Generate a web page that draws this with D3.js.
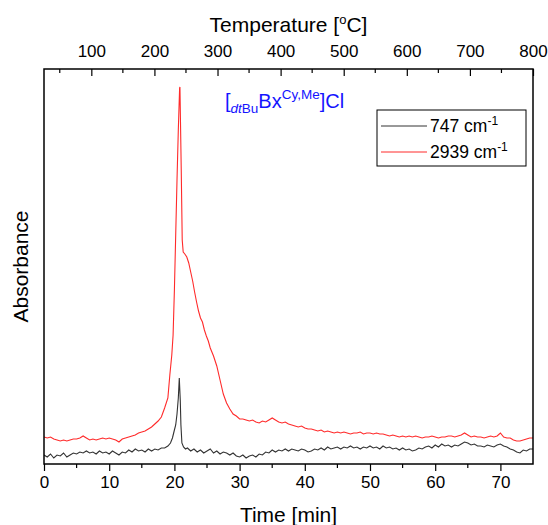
<!DOCTYPE html>
<html>
<head>
<meta charset="utf-8">
<script src="https://cdn.jsdelivr.net/npm/d3@7/dist/d3.min.js"></script>
<style>
  body { margin: 0; background: #fff; }
  svg { display: block; font-family: "Liberation Sans", Arial, sans-serif; }
</style>
</head>
<body>
<svg id="chart" width="548" height="525"></svg>
<script>
// ---- data (absorbance in arbitrary units) ----
const timeTicks = [0, 10, 20, 30, 40, 50, 60, 70];
const tempTicks = [100, 200, 300, 400, 500, 600, 700, 800];
const timeDomain = [0, 75];
const tempDomain = [25, 800];
const seriesNames = ["747 cm", "2939 cm"];
const seriesColors = ["#333333", "#ff2a2a"];

// 2939 cm-1 : [time (min), absorbance]
const red2939 = [
 [0,27],[0.5,26],[1,27],[1.5,25],[2,24],[2.5,23],[3,24],[3.5,23],[4,24],[4.5,25],
 [5,25],[5.5,26],[6,28],[6.5,26],[7,24],[7.5,25],[8,24],[8.5,25],[9,26],[9.5,25],
 [10,26],[10.5,25],[11,24],[11.5,22],[12,25],[12.5,26],[13,27],[13.5,28],[14,29],[14.5,31],
 [15,32],[15.5,33],[16,35],[16.5,37],[17,40],[17.5,43],[18,47],[18.5,56],[19,66],[19.3,89],
 [19.6,109],[19.8,129],[20,174],[20.2,229],[20.4,284],[20.6,334],[20.8,376],[20.85,377],[21.05,294],[21.2,224],
 [21.35,212],[21.6,210],[21.9,207],[22.2,201],[22.5,192],[22.8,183],[23.1,172],[23.4,162],[23.7,153],[24,146],
 [24.3,142],[24.6,134],[24.9,128],[25.2,123],[25.5,116],[26,108],[26.5,98],[27,84],[27.5,70],[28,61],
 [28.5,55],[29,50],[29.5,48],[30,45],[30.5,45],[31,44],[31.5,43],[32,44],[32.5,42],[33,41],
 [33.5,43],[34,42],[34.5,44],[35,46],[35.5,44],[36,42],[36.5,41],[37,42],[37.5,40],[38,39],
 [38.5,38],[39,37],[39.5,38],[40,36],[40.5,35],[41,35],[41.5,34],[42,33],[42.5,34],[43,32],
 [43.5,33],[44,32],[44.5,31],[45,32],[45.5,31],[46,32],[46.5,31],[47,30],[47.5,31],[48,31],
 [48.5,32],[49,30],[49.5,31],[50,31],[50.5,30],[51,31],[51.5,30],[52,30],[52.5,29],[53,28],
 [53.5,29],[54,28],[54.5,27],[55,28],[55.5,27],[56,28],[56.5,27],[57,28],[57.5,27],[58,26],
 [58.5,27],[59,27],[59.5,28],[60,27],[60.5,26],[61,27],[61.5,27],[62,28],[62.5,28],[63,27],
 [63.5,28],[64,29],[64.5,31],[65,29],[65.5,27],[66,28],[66.5,27],[67,27],[67.5,26],[68,27],
 [68.5,28],[69,27],[69.5,28],[70,31],[70.5,27],[71,26],[71.5,26],[72,24],[72.5,23],[73,23],
 [73.5,24],[74,25],[74.5,26],[75,26]
];

// 747 cm-1 : [time (min), absorbance]
const black747 = [
 [0,9],[0.5,7],[1,10],[1.5,6],[2,9],[2.5,8],[3,11],[3.5,7],[4,9],[4.5,11],
 [5,10],[5.5,12],[6,11],[6.5,13],[7,11],[7.5,12],[8,10],[8.5,13],[9,11],[9.5,12],
 [10,10],[10.5,13],[11,11],[11.5,9],[12,12],[12.5,11],[13,14],[13.5,12],[14,15],[14.5,13],
 [15,14],[15.5,12],[16,15],[16.5,13],[17,15],[17.5,14],[18,16],[18.5,16],[19,18],[19.4,21],
 [19.7,26],[20,34],[20.2,39],[20.4,50],[20.6,66],[20.75,86],[20.9,64],[21,39],[21.15,21],[21.4,17],
 [21.7,15],[22,16],[22.5,13],[23,15],[23.5,12],[24,14],[24.5,11],[25,13],[25.5,15],[26,11],
 [26.5,13],[27,10],[27.5,12],[28,11],[28.5,9],[29,11],[29.5,8],[30,7],[30.5,9],[31,6],
 [31.5,8],[32,9],[32.5,7],[33,10],[33.5,9],[34,12],[34.5,11],[35,14],[35.5,12],[36,14],
 [36.5,13],[37,15],[37.5,13],[38,15],[38.5,14],[39,13],[39.5,15],[40,14],[40.5,12],[41,13],
 [41.5,15],[42,14],[42.5,16],[43,14],[43.5,17],[44,15],[44.5,16],[45,17],[45.5,15],[46,17],
 [46.5,16],[47,18],[47.5,16],[48,17],[48.5,15],[49,17],[49.5,16],[50,18],[50.5,16],[51,17],
 [51.5,15],[52,18],[52.5,16],[53,17],[53.5,15],[54,16],[54.5,14],[55,16],[55.5,14],[56,15],
 [56.5,13],[57,14],[57.5,16],[58,15],[58.5,17],[59,18],[59.5,16],[60,19],[60.5,17],[61,20],
 [61.5,18],[62,19],[62.5,17],[63,19],[63.5,18],[64,20],[64.5,22],[65,21],[65.5,19],[66,20],
 [66.5,18],[67,18],[67.5,17],[68,19],[68.5,18],[69,17],[69.5,19],[70,20],[70.5,18],[71,17],
 [71.5,15],[72,14],[72.5,12],[73,11],[73.5,14],[74,13],[74.5,15],[75,15]
];

// ---- layout ----
const svg = d3.select("#chart");
const L = 44, R = 533, T = 69, B = 464;

const x = d3.scaleLinear().domain(timeDomain).range([L, R]);
const xTop = d3.scaleLinear().domain(tempDomain).range([L, R]);
const y = d3.scaleLinear().domain([0, 395]).range([B, T]);

const line = d3.line().x(d => x(d[0])).y(d => y(d[1]));

svg.append("defs").append("clipPath").attr("id", "clip")
  .append("rect").attr("x", L).attr("y", T).attr("width", R - L).attr("height", B - T);

const gLines = svg.append("g").attr("clip-path", "url(#clip)");
gLines.append("path").datum(red2939)
  .attr("fill", "none").attr("stroke", seriesColors[1]).attr("stroke-width", 1.1)
  .attr("d", line);
gLines.append("path").datum(black747)
  .attr("fill", "none").attr("stroke", seriesColors[0]).attr("stroke-width", 1.1)
  .attr("d", line);

// bottom axis (ticks outward)
const minorTime = d3.range(5, 75, 10);
const gB = svg.append("g").attr("transform", `translate(0,${B})`);
gB.call(d3.axisBottom(x).tickValues(timeTicks).tickSize(7).tickPadding(5).tickFormat(d3.format("d")));
gB.selectAll("text").attr("font-size", 17).attr("fill", "#000").attr("font-family", "Liberation Sans, Arial, sans-serif");
gB.select(".domain").remove();
gB.selectAll(".tick line").attr("stroke", "#000").attr("stroke-width", 1.2);
gB.selectAll(".minor").data(minorTime).enter().append("line")
  .attr("x1", d => x(d)).attr("x2", d => x(d)).attr("y1", 0).attr("y2", 4)
  .attr("stroke", "#000").attr("stroke-width", 1.2);

// top axis (ticks inward)
const minorTemp = d3.range(50, 800, 100);
const gT = svg.append("g").attr("transform", `translate(0,${T})`);
gT.call(d3.axisTop(xTop).tickValues(tempTicks).tickSize(-7).tickPadding(12).tickFormat(d3.format("d")));
gT.selectAll("text").attr("font-size", 17).attr("fill", "#000").attr("font-family", "Liberation Sans, Arial, sans-serif");
gT.select(".domain").remove();
gT.selectAll(".tick line").attr("stroke", "#000").attr("stroke-width", 1.2);
gT.selectAll(".minor").data(minorTemp).enter().append("line")
  .attr("x1", d => xTop(d)).attr("x2", d => xTop(d)).attr("y1", 0).attr("y2", 4)
  .attr("stroke", "#000").attr("stroke-width", 1.2);

// frame
svg.append("rect").attr("x", L).attr("y", T).attr("width", R - L).attr("height", B - T)
  .attr("fill", "none").attr("stroke", "#000").attr("stroke-width", 1.5);

// axis titles
svg.append("text").attr("x", (L + R) / 2).attr("y", 522).attr("text-anchor", "middle")
  .attr("font-size", 21).text("Time [min]");

const tt = svg.append("text").attr("x", (L + R) / 2).attr("y", 32).attr("text-anchor", "middle")
  .attr("font-size", 21);
tt.append("tspan").text("Temperature [");
tt.append("tspan").attr("font-size", 13).attr("dy", -8).text("o");
tt.append("tspan").attr("dy", 8).text("C]");

svg.append("text").attr("transform", `translate(28,${(T + B) / 2}) rotate(-90)`)
  .attr("text-anchor", "middle").attr("font-size", 21).text("Absorbance");

// compound label
const lab = svg.append("text").attr("x", 225).attr("y", 108).attr("font-size", 20).attr("fill", "#1515ff");
lab.append("tspan").text("[");
lab.append("tspan").attr("font-size", 13.5).attr("dy", 5).attr("font-style", "italic").text("dt");
lab.append("tspan").attr("font-size", 13.5).text("Bu");
lab.append("tspan").attr("dy", -5).text("Bx");
lab.append("tspan").attr("font-size", 13.5).attr("dy", -9).text("Cy,Me");
lab.append("tspan").attr("dy", 9).text("]Cl");

// legend
const lg = svg.append("g");
lg.append("rect").attr("x", 377).attr("y", 110).attr("width", 149).attr("height", 56)
  .attr("fill", "#fff").attr("stroke", "#000").attr("stroke-width", 1);
[0, 1].forEach(i => {
  const yy = 126 + i * 26;
  lg.append("line").attr("x1", 381).attr("x2", 427).attr("y1", yy).attr("y2", yy)
    .attr("stroke", seriesColors[i]).attr("stroke-width", 1);
  const t = lg.append("text").attr("x", 430).attr("y", yy + 6).attr("font-size", 17.5);
  t.append("tspan").text(seriesNames[i]);
  t.append("tspan").attr("font-size", 12).attr("dy", -7).text("-1");
});
</script>
</body>
</html>
